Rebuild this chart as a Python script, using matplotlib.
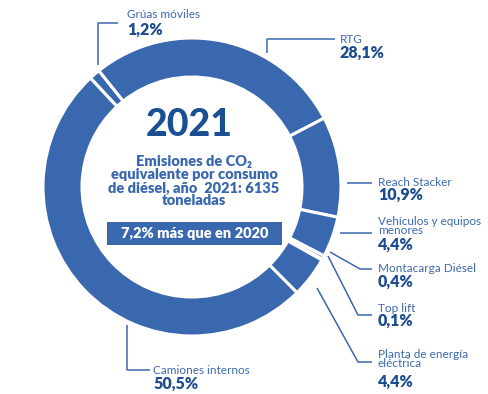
import matplotlib
matplotlib.use("Agg")
import matplotlib.pyplot as plt
from matplotlib.patches import Rectangle

plt.rcParams['font.family'] = ['Lato', 'DejaVu Sans']

# datos
categorias = ['Grúas móviles', 'RTG', 'Reach Stacker', 'Vehículos y equipos\nmenores',
              'Montacarga Diésel', 'Top lift', 'Planta de energía\neléctrica', 'Camiones internos']
porcentajes = [1.2, 28.1, 10.9, 4.4, 0.4, 0.1, 4.4, 50.5]
anio = '2021'
subtitulo = 'Emisiones de CO₂\nequivalente por consumo\nde diésel, año  2021: 6135\ntoneladas'
variacion = '7,2% más que en 2020'

azul = '#3a68ae'
azul_osc = '#1c4d8e'
azul_txt = '#3d69ad'

# posiciones de etiquetas (coordenadas en pixeles de la imagen)
etq_x = [127, 340, 378, 378, 378, 378, 378, 153]
etq_y_nombre = [14.5, 39, 182, 226, 269, 308, 359, 370]
etq_y_pct = [29.5, 52.5, 194.5, 245, 281.5, 320.5, 382, 384]
lineas = [
    [(98, 65), (98, 23), (118, 23)],
    [(267, 53), (267, 39), (335, 39)],
    [(347, 183), (372, 183)],
    [(340, 233), (372, 233)],
    [(330, 252), (360, 269), (372, 269)],
    [(328, 256), (358, 315), (372, 315)],
    [(317, 288), (358, 362), (372, 362)],
    [(127, 325), (127, 370), (150, 370)],
]

fig = plt.figure(figsize=(4.88, 3.94), dpi=100)
ax = fig.add_axes([0, 0, 1, 1])

# anillo (eje y invertido -> sentido horario visual)
ax.pie(porcentajes, colors=[azul] * len(porcentajes), startangle=-133, counterclock=True,
       center=(192, 187), radius=149,
       wedgeprops=dict(width=39, edgecolor='white', linewidth=2.2))

ax.set_xlim(0, 488)
ax.set_ylim(394, 0)
ax.set_aspect('auto')
ax.axis('off')

# etiquetas con lineas guia
for i, nombre in enumerate(categorias):
    xs = [p[0] for p in lineas[i]]
    ys = [p[1] for p in lineas[i]]
    ax.plot(xs, ys, color=azul, lw=1.1, solid_capstyle='butt')
    ax.text(etq_x[i], etq_y_nombre[i], nombre, fontsize=8.5, color=azul_txt,
            ha='left', va='center', linespacing=0.8)
    pct = f'{porcentajes[i]:.1f}%'.replace('.', ',')
    ax.text(etq_x[i], etq_y_pct[i], pct, fontsize=11.5, fontweight='heavy',
            color=azul_osc, ha='left', va='center')

# texto central
ax.text(189, 125, anio, fontsize=27, fontweight='black', color='#1b4f93',
        ha='center', va='center')
ax.text(194, 181, subtitulo, fontsize=10.5, fontweight='heavy', color=azul,
        ha='center', va='center', linespacing=0.97)
ax.add_patch(Rectangle((107, 222), 175, 23, facecolor=azul, edgecolor='none'))
ax.text(194.5, 233.5, variacion, fontsize=10.5, fontweight='heavy', color='white',
        ha='center', va='center')

fig.savefig('out.png', dpi=100)
